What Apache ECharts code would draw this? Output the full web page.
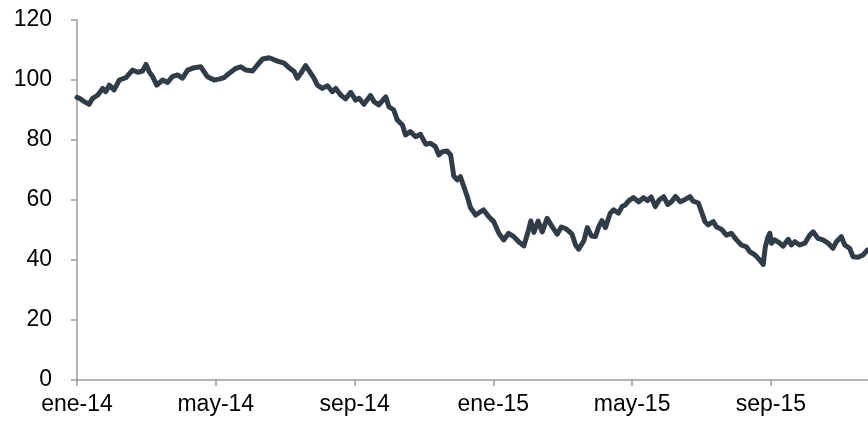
<!DOCTYPE html>
<html>
<head>
<meta charset="utf-8">
<script src="https://cdn.jsdelivr.net/npm/echarts@6/dist/echarts.min.js"></script>
<style>
html,body{margin:0;padding:0;background:#fff;}
#chart{width:868px;height:427px;}
</style>
</head>
<body>
<div id="chart"></div>
<script>
// x: months elapsed since 1 Jan 2014 (ene-14 = 0)
var months = [0.00,0.07,0.21,0.35,0.45,0.60,0.74,0.83,0.93,1.07,1.22,1.41,1.60,1.75,1.89,1.99,2.08,2.18,2.30,2.47,2.61,2.75,2.90,3.04,3.19,3.38,3.57,3.66,3.76,3.95,4.10,4.24,4.38,4.58,4.72,4.87,5.06,5.20,5.35,5.54,5.78,5.97,6.11,6.26,6.35,6.45,6.59,6.74,6.83,6.93,7.07,7.22,7.36,7.46,7.60,7.74,7.89,8.03,8.13,8.27,8.46,8.56,8.70,8.90,8.99,9.13,9.23,9.38,9.47,9.61,9.76,9.90,10.05,10.19,10.33,10.43,10.53,10.67,10.77,10.86,10.96,11.05,11.15,11.25,11.34,11.49,11.63,11.72,11.87,12.01,12.16,12.30,12.44,12.59,12.73,12.88,12.99,13.08,13.17,13.29,13.41,13.55,13.69,13.84,13.96,14.08,14.17,14.27,14.37,14.46,14.61,14.71,14.83,14.94,15.04,15.13,15.23,15.37,15.47,15.61,15.71,15.80,15.90,16.04,16.19,16.33,16.44,16.55,16.67,16.78,16.91,17.03,17.14,17.25,17.39,17.53,17.67,17.76,17.91,18.00,18.10,18.19,18.34,18.43,18.58,18.72,18.86,19.01,19.15,19.30,19.39,19.54,19.68,19.78,19.84,19.92,19.97,20.02,20.11,20.26,20.35,20.50,20.59,20.69,20.83,20.98,21.12,21.22,21.36,21.50,21.65,21.79,21.89,22.03,22.13,22.27,22.37,22.51,22.66,22.78,22.90];
var prices = [94.2,93.9,92.8,91.9,93.9,95.0,97.2,96.1,98.3,96.7,100.0,100.8,103.3,102.6,103.0,105.2,102.8,101.1,98.3,100.0,99.2,101.1,101.7,100.6,103.3,104.1,104.4,102.8,101.1,100.0,100.3,100.8,102.2,103.9,104.4,103.3,103.0,105.0,107.0,107.4,106.3,105.6,104.1,102.8,100.6,102.2,104.8,102.2,100.6,98.3,97.2,98.1,96.1,97.2,95.0,93.7,95.9,93.3,93.9,91.9,94.8,92.8,91.7,94.4,91.1,90.0,86.7,85.0,81.7,82.8,81.1,81.9,78.6,78.9,77.8,75.0,76.1,76.3,75.0,68.0,66.7,67.8,64.4,61.1,57.5,55.0,56.1,56.7,54.4,52.8,48.9,46.7,48.9,47.8,46.1,44.7,48.9,53.0,49.2,53.0,49.4,53.9,51.2,48.6,51.0,50.5,49.7,48.6,45.0,43.6,46.4,50.8,48.0,47.8,51.1,53.1,50.8,55.6,56.7,55.6,57.8,58.3,59.7,60.8,59.4,60.8,59.8,61.0,57.8,60.0,61.1,58.5,59.5,61.2,59.4,60.2,61.1,59.6,59.0,56.1,52.8,51.7,52.8,51.1,50.2,48.3,48.9,46.7,45.0,44.4,42.8,41.7,40.0,38.5,44.4,47.8,48.9,45.6,46.7,45.6,44.6,46.9,45.0,46.1,45.0,45.6,48.3,49.4,47.2,46.7,45.6,43.9,46.1,47.8,45.0,43.9,41.1,40.9,41.7,43.3,43.8];
// tick labels every 4 months
var tickMonths = [0,4,8,12,16,20];
var tickLabels = ['ene-14','may-14','sep-14','ene-15','may-15','sep-15'];
var yTicks = [0,20,40,60,80,100,120];

var data = months.map(function(m,i){return [m, prices[i]];});
var chart = echarts.init(document.getElementById('chart'), null, {renderer:'canvas'});
chart.setOption({
  animation:false,
  backgroundColor:'#ffffff',
  grid:{left:77,right:0,top:20,bottom:47,containLabel:false},
  xAxis:{
    type:'value', min:0, max:22.8, interval:4,
    axisLine:{show:true,onZero:false,lineStyle:{color:'#9a9a9a',width:1.5}},
    axisTick:{show:true,length:6,lineStyle:{color:'#9a9a9a',width:1.5}},
    splitLine:{show:false},
    axisLabel:{
      margin:13, color:'#000', fontSize:23, fontFamily:'Liberation Sans, Arial, sans-serif',
      showMaxLabel:false,
      formatter:function(v){var k=tickMonths.indexOf(Math.round(v*100)/100);return k>=0?tickLabels[k]:'';}
    }
  },
  yAxis:{
    type:'value', min:yTicks[0], max:yTicks[yTicks.length-1], interval:20,
    axisLine:{show:true,lineStyle:{color:'#9a9a9a',width:1.5}},
    axisTick:{show:true,length:6,lineStyle:{color:'#9a9a9a',width:1.5}},
    splitLine:{show:false},
    axisLabel:{margin:25,color:'#000',fontSize:23,fontFamily:'Liberation Sans, Arial, sans-serif'}
  },
  series:[{
    type:'line', data:data, symbol:'none', smooth:false, clip:true,
    lineStyle:{color:'#323c48',width:5,cap:'round',join:'round'}
  }]
});
</script>
</body>
</html>
